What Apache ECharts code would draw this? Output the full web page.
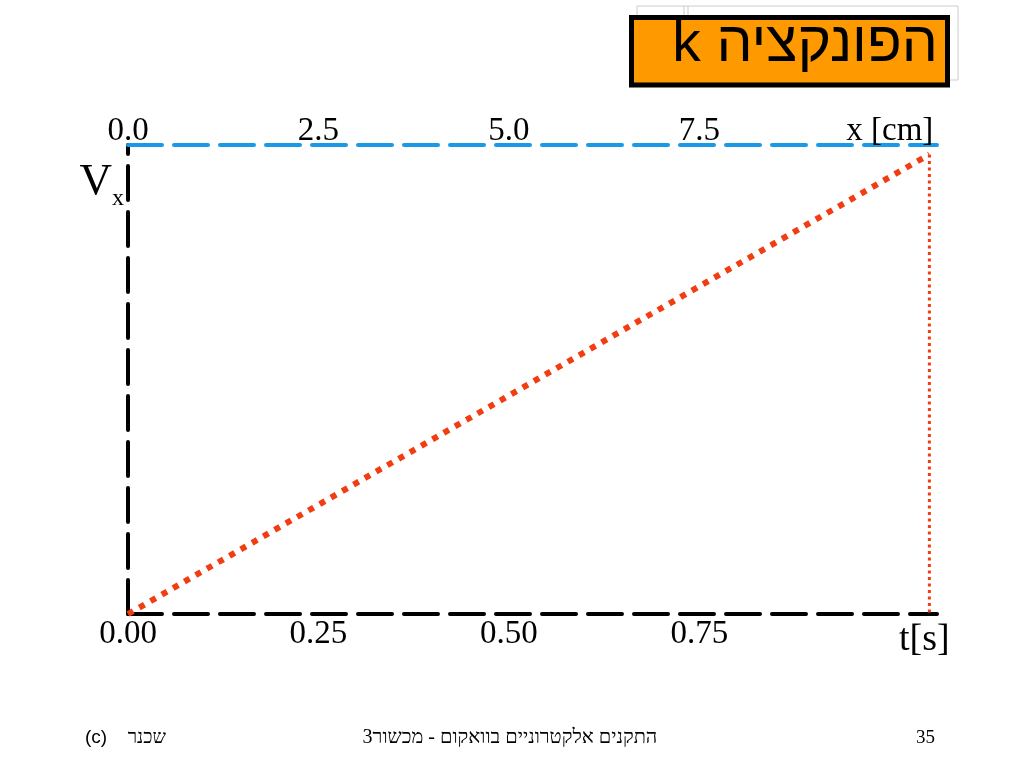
<!DOCTYPE html>
<html>
<head>
<meta charset="utf-8">
<script src="https://cdn.jsdelivr.net/npm/echarts@6/dist/echarts.min.js"></script>
<style>
  html, body { margin: 0; padding: 0; background: #ffffff; }
  #chart { width: 1024px; height: 768px; }
</style>
</head>
<body>
<div id="chart"></div>
<script>
// ---- data ----
const titleText = 'k הפונקציה';
const footerLeftMark = '(c)';
const footerAuthor = 'שכנר';
const footerCenter = 'התקנים אלקטרוניים בוואקום - מכשור3';
const footerPage = '35';

const tTicks = [0, 0.25, 0.5, 0.75];
const tTickLabels = ['0.00', '0.25', '0.50', '0.75'];
const tAxisName = 't[s]';
const tMax = 1.062;

const xTicks = [0, 2.5, 5, 7.5, 10];
const xTickLabels = ['0.0', '2.5', '5.0', '7.5', 'x [cm]'];
const xMax = 10.62;

const vMax = 1;

// ramp V_x(t)
const rampT = [0, 1.052];
const rampV = [0, 0.98];
// vertical drop at end of ramp
const dropT = [1.052, 1.052];
const dropV = [0.98, 0];

// ---- chart ----
const serif = "'Liberation Serif', 'Times New Roman', serif";
const sans = "'Liberation Sans', 'DejaVu Sans', Arial, sans-serif";
const chart = echarts.init(document.getElementById('chart'));

const toPairs = (a, b) => a.map((v, i) => [v, b[i]]);

chart.setOption({
  animation: false,
  backgroundColor: '#ffffff',
  grid: { left: 128, right: 87, top: 145, bottom: 154, containLabel: false },
  xAxis: [
    {
      type: 'value', position: 'bottom', min: 0, max: tMax, interval: 0.25,
      splitLine: { show: false },
      axisTick: { show: false },
      axisLine: { show: true, onZero: false, lineStyle: { color: '#000000', width: 4, type: [34, 12] } },
      axisLabel: {
        customValues: tTicks,
        formatter: (v) => tTickLabels[tTicks.indexOf(v)] ?? '',
        fontFamily: serif, fontSize: 33, color: '#000000', margin: 4,
        showMinLabel: true, showMaxLabel: true
      },
      name: tAxisName, nameLocation: 'end', nameGap: -38,
      nameTextStyle: { fontFamily: serif, fontSize: 38, color: '#000000', verticalAlign: 'top', padding: [7, 0, 0, 0] }
    },
    {
      type: 'value', position: 'top', min: 0, max: xMax, interval: 2.5,
      splitLine: { show: false },
      axisTick: { show: false },
      axisLine: { show: true, onZero: false, lineStyle: { color: '#1a9ae6', width: 4, type: [34, 12] } },
      axisLabel: {
        customValues: xTicks,
        formatter: (v) => xTickLabels[xTicks.indexOf(v)] ?? '',
        fontFamily: serif, fontSize: 33, color: '#000000', margin: -3,
        showMinLabel: true, showMaxLabel: true
      }
    }
  ],
  yAxis: {
    type: 'value', min: 0, max: vMax, interval: 0.5,
    splitLine: { show: false },
    axisTick: { show: false },
    axisLabel: { show: false },
    axisLine: { show: true, onZero: false, lineStyle: { color: '#000000', width: 4, type: [34, 12] } },
    name: '{v|V}{s|x}', nameLocation: 'end', nameGap: -15,
    nameTextStyle: {
      align: 'right', verticalAlign: 'top', padding: [0, 4, 0, 0],
      rich: {
        v: { fontFamily: serif, fontSize: 45, color: '#000000', verticalAlign: 'bottom' },
        s: { fontFamily: serif, fontSize: 24, color: '#000000', verticalAlign: 'bottom', padding: [0, 0, -6, 0] }
      }
    }
  },
  series: [
    {
      type: 'line', xAxisIndex: 0, yAxisIndex: 0, clip: false,
      data: toPairs(rampT, rampV), symbol: 'none',
      lineStyle: { color: '#f23d12', width: 6, type: [6, 7], cap: 'butt' }, z: 5
    },
    {
      type: 'line', xAxisIndex: 0, yAxisIndex: 0, clip: false,
      data: toPairs(dropT, dropV), symbol: 'none',
      lineStyle: { color: '#f23d12', width: 3, type: [3, 3.5], cap: 'butt' }, z: 5
    }
  ],
  graphic: [
    { type: 'rect', shape: { x: 637, y: 6, width: 321, height: 74 }, style: { fill: 'none', stroke: '#cccccc', lineWidth: 1 }, z: 1 },
    { type: 'line', shape: { x1: 684, y1: 6, x2: 684, y2: 16 }, style: { stroke: '#cccccc', lineWidth: 1 }, z: 1 },
    { type: 'line', shape: { x1: 688, y1: 6, x2: 688, y2: 16 }, style: { stroke: '#cccccc', lineWidth: 1 }, z: 1 },
    { type: 'rect', shape: { x: 631.5, y: 17.5, width: 316, height: 67.5 }, style: { fill: '#ff9900', stroke: '#000000', lineWidth: 5 }, z: 2 },
    { type: 'text', x: 805, y: 45, z: 3, style: { text: titleText, fontFamily: sans, fontSize: 57, fill: '#000000', align: 'center', verticalAlign: 'middle' } },
    { type: 'text', x: 85, y: 738, style: { text: footerLeftMark, fontFamily: sans, fontSize: 19, fill: '#000000', align: 'left', verticalAlign: 'middle' } },
    { type: 'text', x: 166, y: 738, style: { text: footerAuthor, fontFamily: serif, fontSize: 19, fill: '#000000', align: 'right', verticalAlign: 'middle' } },
    { type: 'text', x: 510, y: 738, style: { text: footerCenter, fontFamily: serif, fontSize: 20, fill: '#000000', align: 'center', verticalAlign: 'middle' } },
    { type: 'text', x: 935, y: 738, style: { text: footerPage, fontFamily: serif, fontSize: 19, fill: '#000000', align: 'right', verticalAlign: 'middle' } }
  ]
});
</script>
</body>
</html>
